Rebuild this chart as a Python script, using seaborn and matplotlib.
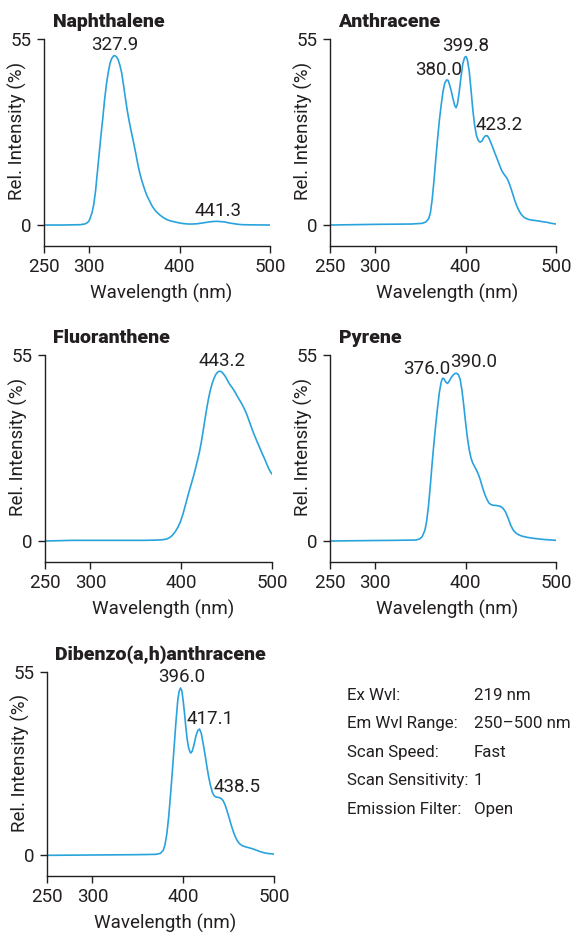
import matplotlib
matplotlib.use("Agg")
import matplotlib.pyplot as plt
import seaborn as sns
import pandas as pd

# ---------------- data ----------------
naph_wl = [250, 270, 290, 295, 298, 300, 303, 305, 307, 309, 311, 313, 315, 317, 319,
           321, 323, 325, 327, 328, 330, 332, 334, 336, 338, 340, 342, 344, 346, 348,
           350, 352, 354, 356, 358, 360, 362, 364, 367, 370, 374, 378, 382, 386, 390,
           395, 400, 405, 410, 415, 420, 425, 430, 435, 441, 446, 450, 455, 460, 465,
           470, 480, 500]
naph_int = [0.0, 0.0, 0.1, 0.3, 0.7, 1.3, 3.5, 6.0, 10.0, 15.5, 21.0, 26.5, 31.5, 37.0, 41.5,
            45.0, 47.8, 49.3, 50.0, 50.1, 49.8, 48.9, 47.2, 44.9, 41.3, 37.6, 34.0, 31.0, 28.3, 25.8,
            23.2, 20.5, 17.7, 15.3, 13.3, 11.6, 10.0, 8.6, 7.0, 5.4, 4.0, 3.0, 2.2, 1.6, 1.2,
            0.9, 0.6, 0.4, 0.3, 0.3, 0.4, 0.6, 0.8, 1.0, 1.1, 1.0, 0.9, 0.6, 0.4, 0.2,
            0.1, 0.05, 0.0]

anth_wl = [250, 300, 340, 352, 356, 359, 361, 363, 365, 367, 369, 371, 373, 375, 377,
           379, 380.5, 382, 384, 386, 388, 389.5, 391, 393, 395, 397, 399, 400.5, 402, 404,
           406, 408, 410, 412, 414, 416, 418, 420, 422, 424, 426, 428, 430, 432, 434,
           436, 438, 440, 442, 444, 446, 448, 450, 452, 454, 456, 458, 460, 462, 465,
           468, 472, 478, 485, 490, 495, 500]
anth_int = [0.0, 0.2, 0.3, 0.5, 0.9, 1.8, 3.5, 7.5, 13.0, 19.5, 25.5, 31.0, 35.5, 39.5, 42.0,
            42.9, 42.8, 41.7, 39.8, 37.4, 35.3, 34.7, 35.8, 39.5, 44.0, 47.8, 49.6, 49.8, 48.8, 45.5,
            40.0, 34.0, 29.5, 26.5, 25.0, 24.5, 24.8, 25.8, 26.4, 26.4, 25.6, 24.3, 23.0, 21.5, 20.2,
            18.8, 17.4, 16.1, 15.2, 14.5, 13.7, 12.5, 11.0, 9.3, 7.6, 6.1, 4.8, 3.8, 3.0, 2.2,
            1.8, 1.5, 1.3, 1.0, 0.8, 0.5, 0.3]

fluo_wl = [250, 280, 320, 360, 375, 380, 384, 387, 390, 393, 396, 399, 402, 405, 408,
           411, 414, 417, 420, 422, 424, 426, 428, 430, 432, 434, 436, 438, 440, 442,
           444, 446, 448, 450, 452, 454, 456, 458, 460, 462, 464, 466, 468, 470, 472,
           474, 476, 478, 480, 482, 484, 486, 488, 490, 492, 494, 496, 498, 500]
fluo_int = [0.0, 0.2, 0.2, 0.2, 0.3, 0.4, 0.6, 1.0, 1.6, 2.6, 3.9, 5.6, 8.0, 11.0, 14.0,
            16.8, 19.6, 22.8, 26.2, 29.0, 32.3, 35.7, 39.0, 42.0, 44.5, 46.5, 48.0, 49.2, 49.9, 50.2,
            50.1, 49.6, 48.9, 48.0, 47.0, 46.1, 45.4, 44.6, 43.7, 42.7, 41.8, 40.9, 39.9, 38.8, 37.6,
            36.1, 34.6, 33.1, 31.7, 30.4, 29.1, 27.9, 26.6, 25.4, 24.2, 22.9, 21.6, 20.6, 19.8]

pyr_wl = [250, 280, 320, 345, 349, 352, 355, 357, 359, 361, 363, 365, 367, 369, 371,
          373, 374.5, 376, 378, 380, 382, 384, 386, 388, 390, 392, 394, 396, 398, 400,
          402, 404, 406, 408, 410, 412, 414, 416, 418, 420, 422, 424, 426, 428, 430,
          434, 438, 441, 444, 447, 450, 453, 456, 459, 463, 468, 475, 485, 495, 500]
pyr_int = [0.0, 0.1, 0.2, 0.3, 0.6, 1.3, 3.2, 6.0, 10.5, 16.5, 23.0, 29.0, 34.5, 39.5, 44.0,
           47.0, 48.1, 48.0, 47.0, 46.6, 47.3, 48.3, 49.0, 49.5, 49.6, 49.2, 47.8, 44.5, 40.0, 35.0,
           30.5, 27.0, 24.5, 23.0, 22.0, 21.0, 19.8, 18.3, 16.5, 14.8, 13.3, 12.1, 11.2, 10.8, 10.6,
           10.5, 10.3, 9.8, 8.7, 6.8, 4.6, 3.1, 2.3, 1.8, 1.4, 1.1, 0.8, 0.5, 0.3, 0.2]

dib_wl = [250, 300, 350, 370, 375, 378, 380, 382, 384, 386, 388, 390, 392, 394, 395.5,
          397, 398.5, 400, 401.5, 403, 404.5, 406, 407.5, 408.5, 410, 412, 414, 416, 418,
          420, 422, 424, 426, 428, 430, 432, 434, 436, 438, 440, 442, 444, 446, 448,
          450, 452, 454, 456, 458, 460, 462, 465, 468, 472, 476, 480, 485, 490, 495, 500]
dib_int = [0.0, 0.1, 0.2, 0.3, 0.6, 1.5, 3.2, 6.5, 11.5, 18.0, 25.0, 32.5, 40.0, 46.5, 49.2,
           50.2, 49.4, 46.3, 42.5, 38.2, 34.6, 32.2, 31.0, 30.7, 31.3, 33.3, 35.8, 37.4, 37.9,
           36.5, 33.5, 30.3, 26.8, 23.6, 21.0, 19.0, 17.9, 17.5, 17.4, 17.3, 17.0, 16.4, 15.2, 13.6,
           11.8, 9.9, 8.1, 6.5, 5.2, 4.2, 3.5, 2.9, 2.6, 2.3, 2.0, 1.6, 1.1, 0.7, 0.5, 0.4]

titles = ["Naphthalene", "Anthracene", "Fluoranthene", "Pyrene", "Dibenzo(a,h)anthracene"]

# peak labels: (text, wavelength, value) for each panel
peak_labels = [
    [("327.9", 328.8, 53.2), ("441.3", 443.0, 4.2)],
    [("380.0", 370.0, 45.8), ("399.8", 400.0, 53.0), ("423.2", 437.6, 29.5)],
    [("443.2", 444.8, 53.3)],
    [("376.0", 356.9, 51.0), ("390.0", 408.7, 53.0)],
    [("396.0", 398.3, 53.5), ("417.1", 429.5, 41.0), ("438.5", 459.6, 20.6)],
]

x_ticks = [250, 300, 400, 500]
y_ticks = [0, 55]

info_keys = ["Ex Wvl:", "Em Wvl Range:", "Scan Speed:", "Scan Sensitivity:", "Emission Filter:"]
info_vals = ["219 nm", "250\u2013500 nm", "Fast", "1", "Open"]

# ---------------- styling ----------------
sns.set_theme(style="ticks")
FONT = ["Roboto", "DejaVu Sans"]
plt.rcParams["font.family"] = FONT
plt.rcParams["text.color"] = "#231f20"
plt.rcParams["axes.labelcolor"] = "#231f20"
plt.rcParams["xtick.color"] = "#231f20"
plt.rcParams["ytick.color"] = "#231f20"

LINE = "#29a3dd"
W, H = 573, 936
fig = plt.figure(figsize=(W / 100, H / 100), dpi=100)

# axes boxes in pixels: left, right, top, bottom
boxes = [
    (44, 270, 39, 246),
    (330, 556, 39, 246),
    (45, 272, 355, 562),
    (330, 556, 355, 562),
    (47, 274, 672, 876),
]
series = [(naph_wl, naph_int), (anth_wl, anth_int), (fluo_wl, fluo_int),
          (pyr_wl, pyr_int), (dib_wl, dib_int)]

FS = 13.5
for i, ((l, r, t, b), (wl, it)) in enumerate(zip(boxes, series)):
    ax = fig.add_axes([l / W, 1 - b / H, (r - l) / W, (b - t) / H])
    df = pd.DataFrame({"Wavelength (nm)": wl, "Rel. Intensity (%)": it})
    sns.lineplot(data=df, x="Wavelength (nm)", y="Rel. Intensity (%)", ax=ax,
                 color=LINE, linewidth=1.2, estimator=None, sort=False)
    ax.set_xlim(250, 500)
    ax.set_ylim(-6.2, 55)
    ax.set_xticks(x_ticks)
    ax.set_yticks(y_ticks)
    ax.tick_params(axis="both", labelsize=FS, length=5, width=1.0)
    ax.tick_params(axis="x", pad=4.0)
    ax.tick_params(axis="y", pad=4.0)
    for s in ("top", "right"):
        ax.spines[s].set_visible(False)
    for s in ("left", "bottom"):
        ax.spines[s].set_linewidth(1.0)
        ax.spines[s].set_color("#231f20")
    ax.set_xlabel("Wavelength (nm)", fontsize=FS)
    ax.set_ylabel("Rel. Intensity (%)", fontsize=FS)
    ax.xaxis.set_label_coords(0.52, -38 / (b - t))
    ax.yaxis.set_label_coords(-17 / (r - l), 0.556)
    for txt, xv, yv in peak_labels[i]:
        ax.text(xv, yv, txt, ha="center", va="center", fontsize=FS, clip_on=False)
    fig.text((l + 8.5) / W, 1 - (t - 17) / H, titles[i], ha="left", va="center",
             fontsize=14, fontweight="heavy")

rows_base = [700, 728, 757, 785, 814]
for k, v, y in zip(info_keys, info_vals, rows_base):
    fig.text(347 / W, 1 - y / H, k, ha="left", va="baseline", fontsize=12.2)
    fig.text(474 / W, 1 - y / H, v, ha="left", va="baseline", fontsize=12.2)

fig.savefig("out.png", dpi=100)
